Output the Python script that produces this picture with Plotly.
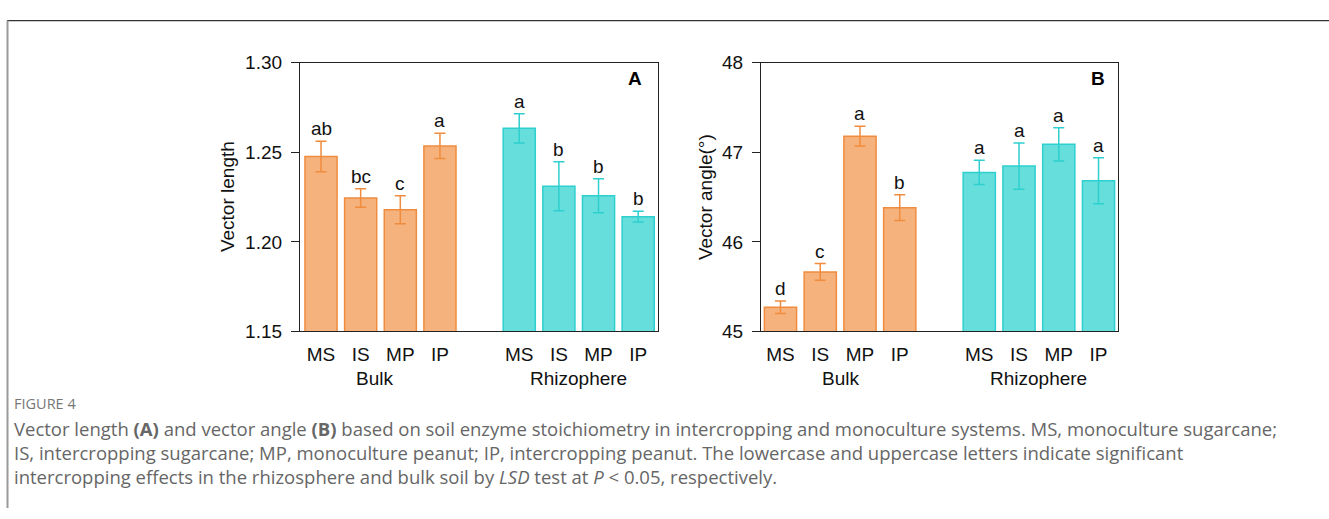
import plotly.graph_objects as go

W, H = 1329, 519

treatments = ["MS", "IS", "MP", "IP"]
groups = ["Bulk", "Rhizophere"]

length_bulk = [1.2477, 1.2245, 1.2179, 1.2536]
length_bulk_err = [0.0085, 0.0052, 0.0078, 0.0070]
length_rhizo = [1.2634, 1.2311, 1.2257, 1.2141]
length_rhizo_err = [0.0082, 0.0137, 0.0095, 0.0030]
length_bulk_letters = ["ab", "bc", "c", "a"]
length_rhizo_letters = ["a", "b", "b", "b"]

angle_bulk = [45.27, 45.665, 47.18, 46.382]
angle_bulk_err = [0.07, 0.093, 0.11, 0.143]
angle_rhizo = [46.776, 46.846, 47.089, 46.682]
angle_rhizo_err = [0.135, 0.257, 0.186, 0.257]
angle_bulk_letters = ["d", "c", "a", "b"]
angle_rhizo_letters = ["a", "a", "a", "a"]

length_ticks = [1.15, 1.20, 1.25, 1.30]
angle_ticks = [45, 46, 47, 48]

ORANGE_FILL = "#F5B27D"
ORANGE_LINE = "#F08C3E"
CYAN_FILL = "#66DEDB"
CYAN_LINE = "#2ECFCF"

FONT = "Liberation Sans, Arial, sans-serif"
CAP_FONT = "Open Sans, sans-serif"

bulk_pos = [0, 1, 2, 3]
rhizo_pos = [5, 6, 7, 8]


def px_x(p):
    return p / W


def px_y(p):
    return 1 - p / H


fig = go.Figure()
annotations = []

panels = [
    dict(xa="x", ya="y", bulk=length_bulk, bulk_err=length_bulk_err,
         rhizo=length_rhizo, rhizo_err=length_rhizo_err,
         bl=length_bulk_letters, rl=length_rhizo_letters),
    dict(xa="x2", ya="y2", bulk=angle_bulk, bulk_err=angle_bulk_err,
         rhizo=angle_rhizo, rhizo_err=angle_rhizo_err,
         bl=angle_bulk_letters, rl=angle_rhizo_letters),
]

for p in panels:
    for pos, vals, errs, fill, line, letters in [
        (bulk_pos, p["bulk"], p["bulk_err"], ORANGE_FILL, ORANGE_LINE, p["bl"]),
        (rhizo_pos, p["rhizo"], p["rhizo_err"], CYAN_FILL, CYAN_LINE, p["rl"]),
    ]:
        fig.add_trace(go.Bar(
            x=pos, y=vals, width=0.81,
            marker=dict(color=fill, line=dict(color=line, width=1.5)),
            error_y=dict(type="data", array=errs, visible=True,
                         color=line, thickness=1.5, width=5.5),
            xaxis=p["xa"], yaxis=p["ya"], showlegend=False,
        ))
        for xx, v, e, t in zip(pos, vals, errs, letters):
            annotations.append(dict(
                x=xx, y=v + e, xref=p["xa"], yref=p["ya"], text=t,
                showarrow=False, xanchor="center", yanchor="bottom", yshift=0,
                font=dict(family=FONT, size=19, color="#111"),
            ))

ydom = [px_y(335), px_y(55)]
common_x = dict(
    tickmode="array", tickvals=bulk_pos + rhizo_pos, ticktext=treatments * 2,
    showline=True, linecolor="#222", linewidth=1.3, mirror=True,
    ticks="", showgrid=False, zeroline=False, ticklabelstandoff=6,
    tickfont=dict(family=FONT, size=19, color="#111"),
)
common_y = dict(
    showline=True, linecolor="#222", linewidth=1.3, mirror=True,
    ticks="outside", ticklen=8, tickwidth=1.3, tickcolor="#222",
    showgrid=False, zeroline=False, ticklabelstandoff=5,
    tickfont=dict(family=FONT, size=19, color="#111"),
)

fig.update_layout(
    width=W, height=H,
    margin=dict(l=0, r=0, t=0, b=0),
    paper_bgcolor="white", plot_bgcolor="white",
    barmode="overlay",
    xaxis=dict(domain=[px_x(300), px_x(658)], range=[-0.53, 8.5], anchor="y", **common_x),
    yaxis=dict(domain=ydom, range=[1.15, 1.30], tickvals=length_ticks,
               tickformat=".2f", anchor="x", **common_y),
    xaxis2=dict(domain=[px_x(761), px_x(1118)], range=[-0.49, 8.49], anchor="y2", **common_x),
    yaxis2=dict(domain=ydom, range=[45, 48], tickvals=angle_ticks,
                anchor="x2", **common_y),
)

# group labels
for xa, bx in [("x", 1.35), ("x2", 1.5)]:
    annotations.append(dict(x=bx, y=px_y(384), xref=xa, yref="paper", text=groups[0],
                            showarrow=False, xanchor="center", yanchor="middle",
                            font=dict(family=FONT, size=19, color="#111")))
    annotations.append(dict(x=6.5, y=px_y(384), xref=xa, yref="paper", text=groups[1],
                            showarrow=False, xanchor="center", yanchor="middle",
                            font=dict(family=FONT, size=19, color="#111")))

# axis titles
annotations.append(dict(x=px_x(227), y=px_y(195), xref="paper", yref="paper",
                        text="Vector length", textangle=-90, showarrow=False,
                        xanchor="center", yanchor="middle",
                        font=dict(family=FONT, size=19, color="#111")))
annotations.append(dict(x=px_x(705), y=px_y(195), xref="paper", yref="paper",
                        text="Vector angle(°)", textangle=-90, showarrow=False,
                        xanchor="center", yanchor="middle",
                        font=dict(family=FONT, size=19, color="#111")))

# panel letters
annotations.append(dict(x=px_x(635), y=px_y(71), xref="paper", yref="paper",
                        text="<b>A</b>", showarrow=False,
                        xanchor="center", yanchor="middle",
                        font=dict(family=FONT, size=19, color="#000")))
annotations.append(dict(x=px_x(1098), y=px_y(71), xref="paper", yref="paper",
                        text="<b>B</b>", showarrow=False,
                        xanchor="center", yanchor="middle",
                        font=dict(family=FONT, size=19, color="#000")))

# caption
annotations.append(dict(x=px_x(12), y=px_y(410), xref="paper", yref="paper",
                        xanchor="left", yanchor="middle", text="FIGURE 4", showarrow=False,
                        font=dict(family=CAP_FONT, size=14.5, color="#777")))
caption_lines = [
    "Vector length <b>(A)</b> and vector angle <b>(B)</b> based on soil enzyme stoichiometry in intercropping and monoculture systems. MS, monoculture sugarcane;",
    "IS, intercropping sugarcane; MP, monoculture peanut; IP, intercropping peanut. The lowercase and uppercase letters indicate significant",
    "intercropping effects in the rhizosphere and bulk soil by <i>LSD</i> test at <i>P</i> &lt; 0.05, respectively.",
]
annotations.append(dict(x=px_x(12), y=px_y(461), xref="paper", yref="paper",
                        xanchor="left", yanchor="middle", align="left",
                        text="<br>".join(caption_lines), showarrow=False,
                        font=dict(family=CAP_FONT, size=18.5, color="#666")))

fig.update_layout(annotations=annotations)

# frame
fig.add_shape(type="line", xref="paper", yref="paper",
              x0=px_x(7), x1=1, y0=px_y(11), y1=px_y(11),
              line=dict(color="#333", width=1.2))
fig.add_shape(type="line", xref="paper", yref="paper",
              x0=px_x(7.5), x1=px_x(7.5), y0=px_y(11), y1=0,
              line=dict(color="#999", width=2))

fig.write_html("out.html")
